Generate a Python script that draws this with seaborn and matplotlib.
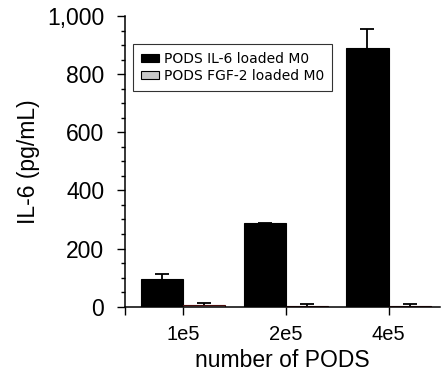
import matplotlib
matplotlib.use("Agg")
import matplotlib.pyplot as plt
import seaborn as sns
import pandas as pd
import numpy as np
from matplotlib.ticker import MultipleLocator, FuncFormatter
from matplotlib.patches import Patch

categories = ["1e5", "2e5", "4e5"]
series = ["PODS IL-6 loaded M0", "PODS FGF-2 loaded M0"]
il6_vals = [94, 287, 889]
il6_err = [18, 2, 65]
fgf_vals = [5, 4, 4]
fgf_err = [7, 5, 5]

df = pd.DataFrame({
    "cat": categories * 2,
    "series": [series[0]] * 3 + [series[1]] * 3,
    "val": il6_vals + fgf_vals,
    "err": il6_err + fgf_err,
})

sns.set_style("ticks")
plt.rcParams['font.family'] = ['Liberation Sans', 'DejaVu Sans']
for k in ["text.color", "axes.labelcolor", "xtick.color", "ytick.color", "axes.edgecolor"]:
    plt.rcParams[k] = "black"

fig = plt.figure(figsize=(4.43, 3.79), dpi=100)
ax = fig.add_axes([0.2822, 0.1908, 0.711, 0.767])

sns.barplot(data=df, x="cat", y="val", hue="series", order=categories,
            hue_order=series, palette=["#000000", "#c8c8c8"], errorbar=None,
            width=0.82, edgecolor="#000000", linewidth=0.8, ax=ax, legend=False,
            zorder=3)
for p in ax.containers[1].patches:
    p.set_edgecolor("#4a0d0d")

# error bars (upper only)
for i, s in enumerate(series):
    cont = ax.containers[i]
    sub = df[df.series == s].set_index("cat").loc[categories]
    xs = [p.get_x() + p.get_width() / 2 for p in cont.patches]
    _, caps, _ = ax.errorbar(xs, sub["val"].values, yerr=[np.zeros(3), sub["err"].values],
                             fmt="none", ecolor="black", elinewidth=1.3, capsize=5,
                             capthick=1.3, zorder=4)
    for c in caps:
        if np.allclose(c.get_ydata(), sub["val"].values):
            c.set_visible(False)

xmin = -0.563
ax.set_xlim(xmin, 2.5)
ax.set_ylim(0, 1000)
ax.yaxis.set_major_locator(MultipleLocator(200))
ax.yaxis.set_minor_locator(MultipleLocator(50))
ax.yaxis.set_major_formatter(FuncFormatter(lambda v, p: f"{int(v):,}"))
ax.set_xticks([xmin], minor=True)
ax.tick_params(axis="y", which="major", length=6, width=1.0, labelsize=16.5, pad=9)
ax.tick_params(axis="y", which="minor", length=3, width=1.0)
ax.tick_params(axis="x", which="both", length=6, width=1.0, labelsize=14.5, pad=7)
sns.despine(ax=ax)
for sp in ["left", "bottom"]:
    ax.spines[sp].set_linewidth(1.1)
    ax.spines[sp].set_zorder(5)

ax.set_xlabel("number of PODS", fontsize=16.5, labelpad=4)
ax.set_ylabel("IL-6 (pg/mL)", fontsize=16.5, labelpad=5)

handles = [Patch(facecolor="#000000", edgecolor="black", linewidth=0.8),
           Patch(facecolor="#c8c8c8", edgecolor="black", linewidth=0.8)]
leg = ax.legend(handles, series, loc="upper left", bbox_to_anchor=(0.025, 0.904),
                frameon=True, fancybox=False, edgecolor="black",
                handlelength=1.3, handleheight=0.5, handletextpad=0.4,
                borderpad=0.55, labelspacing=0.25, borderaxespad=0,
                prop={"family": "DejaVu Sans", "size": 10})
leg.get_frame().set_linewidth(0.8)

fig.savefig("out.png", dpi=100)
